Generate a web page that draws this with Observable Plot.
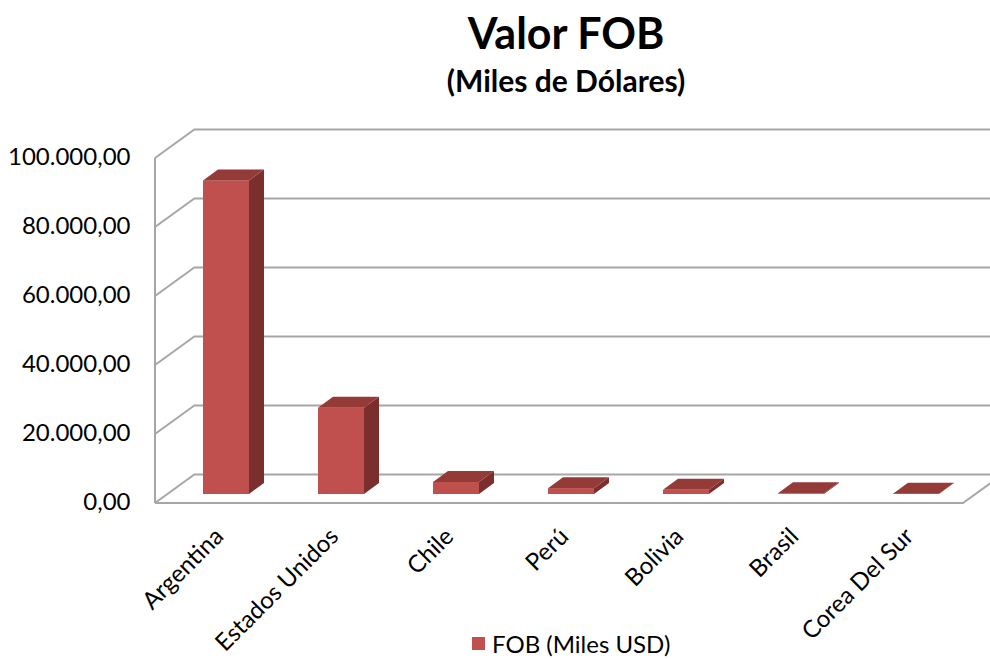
<!DOCTYPE html>
<html><head><meta charset="utf-8">
<script src="https://cdn.jsdelivr.net/npm/d3@7"></script>
<script src="https://cdn.jsdelivr.net/npm/@observablehq/plot@0.6"></script>
<style>
body{margin:0;background:#fff;font-family:Lato, sans-serif;color:#000;}
#wrap{position:relative;width:990px;height:659px;overflow:hidden;}
#head{position:absolute;left:0;top:0;width:990px;height:104px;}
#t1{position:absolute;left:142px;right:0;top:8px;text-align:center;font-weight:bold;font-size:43px;line-height:50px;}
#t2{position:absolute;left:142px;right:0;top:62px;text-align:center;font-weight:bold;font-size:30px;line-height:36px;}
#chart{position:absolute;left:0;top:104px;}
#legend{position:absolute;left:0;top:620px;width:990px;height:39px;}
#legend .sw{position:absolute;left:472px;top:17px;width:13px;height:13px;background:#C0504D;}
#legend .lb{position:absolute;left:492px;top:10px;font-size:24px;line-height:28px;}
</style></head>
<body>
<div id="wrap">
  <div id="head"><div id="t1">Valor FOB</div><div id="t2">(Miles de Dólares)</div></div>
  <div id="chart"></div>
  <div id="legend"><div class="sw"></div><div class="lb">FOB (Miles USD)</div></div>
</div>
<script>
const countries = ["Argentina","Estados Unidos","Chile","Perú","Bolivia","Brasil","Corea Del Sur"];
const fob = [90900, 25000, 3500, 1700, 1200, 200, 100];
const yTicks = [0, 20000, 40000, 60000, 80000, 100000];
const seriesName = "FOB (Miles USD)";

const data = countries.map((c, i) => ({country: c, fob: fob[i]}));
const locale = d3.formatLocale({decimal: ",", thousands: ".", grouping: [3], currency: ["", ""]});
const fmt = locale.format(",.2f");

const FRONT = {dx: -12, dy: 9};   // front plane offset from bar plane
const BACK = {dx: 28, dy: -20};   // back wall offset from bar plane
const DEPTH = {dx: 15, dy: -11};  // bar depth
const GRID = "#a6a6a6";
const FRONT_FILL = "#C0504D", TOP_FILL = "#943a37", SIDE_FILL = "#7b2f2d";

function frameLines(index, scales, values, dims) {
  const y = scales.y;
  const g = d3.create("svg:g").attr("fill", "none").attr("stroke", GRID).attr("stroke-width", 2);
  const x0 = dims.marginLeft, x1 = dims.width - dims.marginRight;
  for (const t of yTicks) {
    g.append("line")
      .attr("x1", x0 + FRONT.dx).attr("y1", y(t) + FRONT.dy)
      .attr("x2", x0 + BACK.dx).attr("y2", y(t) + BACK.dy);
  }
  g.append("line")
    .attr("x1", x0 + FRONT.dx).attr("y1", y(yTicks[0]) + FRONT.dy)
    .attr("x2", x0 + FRONT.dx).attr("y2", y(yTicks[yTicks.length - 1]) + FRONT.dy);
  g.append("path").attr("d",
    `M${x0 + FRONT.dx},${y(0) + FRONT.dy}H${x1 + FRONT.dx}L${x1 + BACK.dx},${y(0) + BACK.dy}`);
  return g.node();
}

function bars3d(index, scales) {
  const x = scales.x, y = scales.y;
  const g = d3.create("svg:g").attr("stroke", "none");
  const bw = x.bandwidth(), y0 = y(0);
  data.forEach(d => {
    const xa = x(d.country), xb = xa + bw, yv = y(d.fob);
    g.append("path").attr("fill", SIDE_FILL).attr("d",
      `M${xb},${yv}L${xb + DEPTH.dx},${yv + DEPTH.dy}L${xb + DEPTH.dx},${y0 + DEPTH.dy}L${xb},${y0}Z`);
    g.append("path").attr("fill", TOP_FILL).attr("d",
      `M${xa},${yv}L${xa + DEPTH.dx},${yv + DEPTH.dy}L${xb + DEPTH.dx},${yv + DEPTH.dy}L${xb},${yv}Z`);
  });
  return g.node();
}

const chart = Plot.plot({
  width: 990,
  height: 516,
  marginLeft: 167,
  marginRight: 15,
  marginTop: 45,
  marginBottom: 126,
  style: {fontFamily: "Lato, sans-serif", fontSize: "24px", color: "#000", background: "#fff", overflow: "visible"},
  x: {type: "band", domain: countries, paddingInner: 0.6, paddingOuter: 0.3, label: null},
  y: {domain: [0, 100000], label: null},
  marks: [
    Plot.ruleY(yTicks, {y: d => d, dx: BACK.dx, dy: BACK.dy, stroke: GRID, strokeWidth: 2}),
    frameLines,
    Plot.barY(data, {x: "country", y: "fob", fill: FRONT_FILL, inset: 0}),
    bars3d,
    Plot.axisY({ticks: yTicks, tickFormat: fmt, tickSize: 0, tickPadding: 37, dy: 8, fontSize: 24, label: null}),
    Plot.axisX({tickRotate: -45, tickSize: 0, tickPadding: 38, dx: -7, fontSize: 24, label: null})
  ]
});
document.getElementById("chart").appendChild(chart);
</script>
</body></html>
